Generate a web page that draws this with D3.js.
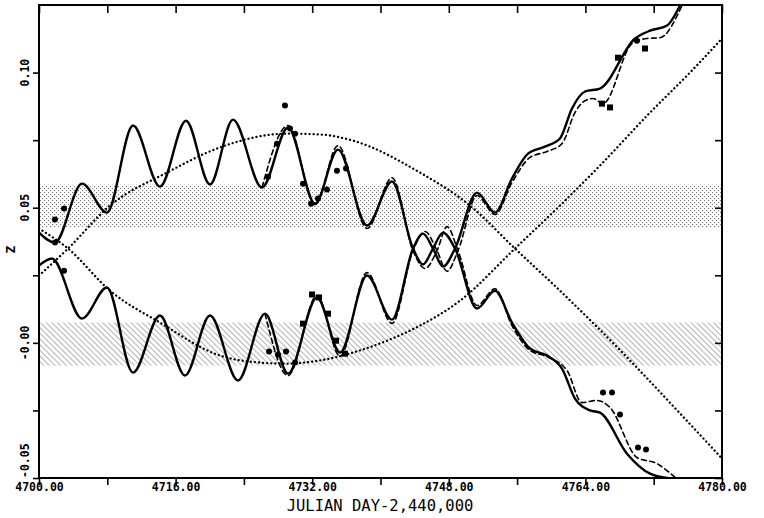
<!DOCTYPE html>
<html>
<head>
<meta charset="utf-8">
<script src="https://cdn.jsdelivr.net/npm/d3@7/dist/d3.min.js"></script>
<style>
  html, body { margin: 0; padding: 0; background: #fff; }
  svg { display: block; }
  .tick-label { font-family: "DejaVu Sans Mono", monospace; font-weight: bold; font-size: 11.5px; fill: #000; }
  .title { font-family: "DejaVu Sans Mono", monospace; font-size: 15.5px; fill: #000; }
</style>
</head>
<body>
<svg id="chart" width="764" height="518"></svg>
<script>
'use strict';

// ---- data (Julian day - 2,440,000 , Z) ----
const x_ticks = [4700, 4708, 4716, 4724, 4732, 4740, 4748, 4756, 4764, 4772, 4780];
const x_tick_labels = ['4700.00', '', '4716.00', '', '4732.00', '', '4748.00', '', '4764.00', '', '4780.00'];
const y_ticks = [-0.05, -0.025, 0, 0.025, 0.05, 0.075, 0.10];
const y_tick_labels = ['-0.05', '', '-0.00', '', '0.05', '', '0.10'];

const band_dotted = [0.0426, 0.0585];
const band_hatched = [-0.0084, 0.0075];

// solid track starting high on the left, ending bottom right
const solid_a_day = [4700.00, 4701.87, 4705.04, 4707.96, 4711.01, 4714.17, 4717.22, 4720.03, 4722.72, 4726.12, 4729.17, 4732.33, 4735.02, 4738.42, 4741.35, 4743.81, 4744.98, 4746.15, 4747.32, 4748.73, 4751.30, 4753.41, 4755.40, 4757.51, 4759.50, 4761.26, 4762.78, 4764.54, 4765.71, 4768.87, 4771.57, 4773.91];
const solid_a_z = [0.0408, 0.0371, 0.0589, 0.0482, 0.0804, 0.0578, 0.0822, 0.0586, 0.0826, 0.0575, 0.0797, 0.0515, 0.0715, 0.0434, 0.0597, 0.0349, 0.0290, 0.0349, 0.0408, 0.0349, 0.0127, 0.0193, 0.0075, -0.0021, -0.0047, -0.0095, -0.0206, -0.0250, -0.0258, -0.0410, -0.0484, -0.0502];

// solid track starting low on the left, ending top right
const solid_b_day = [4700.00, 4701.52, 4705.04, 4707.96, 4711.01, 4714.17, 4717.10, 4720.03, 4723.31, 4726.47, 4729.17, 4732.56, 4735.26, 4738.42, 4741.35, 4743.81, 4744.98, 4746.15, 4747.32, 4748.73, 4751.30, 4753.41, 4755.40, 4757.28, 4759.27, 4761.02, 4762.43, 4763.95, 4765.71, 4769.81, 4771.57, 4773.56, 4775.08];
const solid_b_z = [0.0286, 0.0312, 0.0090, 0.0205, -0.0110, 0.0101, -0.0121, 0.0101, -0.0139, 0.0108, -0.0114, 0.0168, -0.0036, 0.0249, 0.0086, 0.0349, 0.0404, 0.0349, 0.0282, 0.0349, 0.0556, 0.0482, 0.0608, 0.0700, 0.0726, 0.0756, 0.0867, 0.0930, 0.0941, 0.1126, 0.1155, 0.1174, 0.1248];

const dashed_a_day = [4726.12, 4729.17, 4732.33, 4735.02, 4738.42, 4741.35, 4743.81, 4745.21, 4746.62, 4747.79, 4749.08, 4751.30, 4753.41, 4755.40, 4757.51, 4759.50, 4761.84, 4763.60, 4765.36, 4766.88, 4770.04, 4772.39, 4774.50];
const dashed_a_z = [0.0575, 0.0804, 0.0512, 0.0730, 0.0423, 0.0611, 0.0341, 0.0275, 0.0341, 0.0430, 0.0341, 0.0138, 0.0200, 0.0064, -0.0028, -0.0051, -0.0102, -0.0221, -0.0213, -0.0239, -0.0424, -0.0447, -0.0498];

const dashed_b_day = [4726.47, 4729.17, 4732.56, 4735.26, 4738.42, 4741.35, 4743.81, 4745.21, 4746.62, 4747.79, 4749.08, 4751.30, 4753.41, 4755.40, 4757.51, 4759.50, 4761.26, 4762.78, 4763.95, 4764.89, 4766.06, 4769.46, 4771.21, 4772.74, 4775.31];
const dashed_b_z = [0.0108, -0.0121, 0.0175, -0.0050, 0.0260, 0.0072, 0.0341, 0.0412, 0.0341, 0.0265, 0.0341, 0.0545, 0.0475, 0.0593, 0.0686, 0.0708, 0.0737, 0.0852, 0.0896, 0.0904, 0.0885, 0.1107, 0.1126, 0.1129, 0.1248];

const dotted_a_day = [4700.00, 4703.40, 4708.32, 4714.99, 4721.20, 4729.05, 4732.91, 4736.78, 4744.63, 4750.48, 4755.75, 4761.02, 4769.22, 4775.08, 4780.00];
const dotted_a_z = [0.0249, 0.0349, 0.0508, 0.0630, 0.0723, 0.0774, 0.0771, 0.0748, 0.0630, 0.0508, 0.0349, 0.0193, -0.0065, -0.0261, -0.0428];

const dotted_b_day = [4700.00, 4703.40, 4708.32, 4714.17, 4721.20, 4725.89, 4729.05, 4732.91, 4736.78, 4740.76, 4744.63, 4749.31, 4755.75, 4761.02, 4765.71, 4771.57, 4776.25, 4780.00];
const dotted_b_z = [0.0423, 0.0349, 0.0193, 0.0075, -0.0047, -0.0073, -0.0077, -0.0065, -0.0036, 0.0008, 0.0064, 0.0156, 0.0349, 0.0508, 0.0656, 0.0852, 0.1000, 0.1126];

const obs_circle_day = [4701.87, 4702.93, 4701.87, 4702.93, 4726.82, 4727.88, 4728.81, 4729.40, 4729.99, 4730.92, 4731.86, 4732.68, 4733.73, 4734.90, 4735.96, 4726.94, 4727.99, 4728.93, 4729.99, 4766.06, 4767.12, 4768.05, 4770.16, 4771.10, 4770.04];
const obs_circle_z = [0.0456, 0.0497, 0.0371, 0.0267, 0.0615, 0.0737, 0.0878, 0.0793, 0.0774, 0.0589, 0.0515, 0.0534, 0.0567, 0.0637, 0.0645, -0.0032, -0.0043, -0.0032, -0.0073, -0.0184, -0.0184, -0.0265, -0.0387, -0.0395, 0.1118];

const obs_square_day = [4730.92, 4731.98, 4732.80, 4733.85, 4734.79, 4735.84, 4765.94, 4766.88, 4767.82, 4770.98];
const obs_square_z = [0.0071, 0.0179, 0.0168, 0.0108, 0.0008, -0.0040, 0.0885, 0.0871, 0.1055, 0.1089];

// ---- layout ----
const svg = d3.select('#chart');
const plot = { left: 39, right: 722, top: 5, bottom: 478 };

const x = d3.scaleLinear().domain([4700, 4780]).range([plot.left, plot.right]);
const y = d3.scaleLinear().domain([-0.05, 0.125]).range([plot.bottom, plot.top]);

const zip = (a, b) => a.map((d, i) => [d, b[i]]);

const defs = svg.append('defs');

const stipple = defs.append('pattern')
    .attr('id', 'stipple')
    .attr('patternUnits', 'userSpaceOnUse')
    .attr('width', 4).attr('height', 4);
stipple.append('rect').attr('x', 0).attr('y', 0).attr('width', 1.1).attr('height', 1.1).attr('fill', '#777');
stipple.append('rect').attr('x', 2).attr('y', 2).attr('width', 1.1).attr('height', 1.1).attr('fill', '#777');

const hatch = defs.append('pattern')
    .attr('id', 'hatch')
    .attr('patternUnits', 'userSpaceOnUse')
    .attr('width', 4).attr('height', 4)
    .attr('patternTransform', 'rotate(-45)');
hatch.append('line')
    .attr('x1', 0).attr('y1', 0).attr('x2', 0).attr('y2', 4)
    .attr('stroke', '#666').attr('stroke-width', 1);

defs.append('clipPath').attr('id', 'plot-clip')
    .append('rect')
    .attr('x', plot.left).attr('y', plot.top)
    .attr('width', plot.right - plot.left).attr('height', plot.bottom - plot.top);

// shaded bands
svg.append('rect')
    .attr('x', plot.left).attr('width', plot.right - plot.left)
    .attr('y', y(band_dotted[1])).attr('height', y(band_dotted[0]) - y(band_dotted[1]))
    .attr('fill', 'url(#stipple)');

svg.append('rect')
    .attr('x', plot.left).attr('width', plot.right - plot.left)
    .attr('y', y(band_hatched[1])).attr('height', y(band_hatched[0]) - y(band_hatched[1]))
    .attr('fill', 'url(#hatch)');

const g = svg.append('g').attr('clip-path', 'url(#plot-clip)');

const line = d3.line()
    .x(d => x(d[0]))
    .y(d => y(d[1]))
    .curve(d3.curveMonotoneX);

const draw = (data, dash, width) => g.append('path')
    .datum(data)
    .attr('d', line)
    .attr('fill', 'none')
    .attr('stroke', '#000')
    .attr('stroke-width', width)
    .attr('stroke-linecap', 'round')
    .attr('stroke-dasharray', dash);

draw(zip(dotted_a_day, dotted_a_z), '0.1,4', 2.3);
draw(zip(dotted_b_day, dotted_b_z), '0.1,4', 2.3);
draw(zip(dashed_a_day, dashed_a_z), '5,3.5', 1.6);
draw(zip(dashed_b_day, dashed_b_z), '5,3.5', 1.6);
draw(zip(solid_a_day, solid_a_z), null, 2.4);
draw(zip(solid_b_day, solid_b_z), null, 2.4);

// observations
g.selectAll('circle.obs')
    .data(zip(obs_circle_day, obs_circle_z)).enter()
    .append('circle')
    .attr('class', 'obs')
    .attr('cx', d => x(d[0])).attr('cy', d => y(d[1]))
    .attr('r', 3).attr('fill', '#000');

g.selectAll('rect.obs')
    .data(zip(obs_square_day, obs_square_z)).enter()
    .append('rect')
    .attr('class', 'obs')
    .attr('x', d => x(d[0]) - 3).attr('y', d => y(d[1]) - 3)
    .attr('width', 6).attr('height', 6).attr('fill', '#000');

// ---- axes ----
const styleAxis = sel => {
    sel.select('.domain').remove();
    sel.selectAll('.tick line').attr('stroke', '#000').attr('stroke-width', 1.6);
};

svg.append('g')
    .attr('transform', `translate(0,${plot.bottom})`)
    .call(d3.axisBottom(x).tickValues(x_ticks).tickSize(7).tickFormat((d, i) => x_tick_labels[i]))
    .call(styleAxis)
    .call(sel => sel.selectAll('text').attr('class', 'tick-label').attr('dy', '0.45em').attr('y', 8));

svg.append('g')
    .attr('transform', `translate(0,${plot.top})`)
    .call(d3.axisTop(x).tickValues(x_ticks).tickSize(-8).tickFormat(''))
    .call(styleAxis);

svg.append('g')
    .attr('transform', `translate(${plot.left},0)`)
    .call(d3.axisLeft(y).tickValues(y_ticks).tickSize(6).tickFormat(''))
    .call(styleAxis);

svg.append('g')
    .attr('transform', `translate(${plot.right},0)`)
    .call(d3.axisRight(y).tickValues(y_ticks).tickSize(-7).tickFormat(''))
    .call(styleAxis);

// rotated y tick labels
svg.append('g').selectAll('text')
    .data(y_ticks.map((d, i) => [d, y_tick_labels[i]]).filter(d => d[1]))
    .enter().append('text')
    .attr('class', 'tick-label')
    .attr('transform', d => `translate(29,${d[0] === -0.05 ? plot.bottom : y(d[0])}) rotate(-90)`)
    .attr('text-anchor', d => d[0] === -0.05 ? 'start' : 'middle')
    .text(d => d[1]);

// frame
svg.append('rect')
    .attr('x', plot.left).attr('y', plot.top)
    .attr('width', plot.right - plot.left).attr('height', plot.bottom - plot.top)
    .attr('fill', 'none').attr('stroke', '#000').attr('stroke-width', 2);

svg.append('text')
    .attr('class', 'title')
    .attr('x', 380).attr('y', 511)
    .attr('text-anchor', 'middle')
    .text('JULIAN DAY-2,440,000');

svg.append('text')
    .attr('class', 'tick-label')
    .attr('transform', `translate(15,${y(0.0345)}) rotate(-90)`)
    .attr('text-anchor', 'middle')
    .style('font-size', '13px')
    .text('Z');
</script>
</body>
</html>
